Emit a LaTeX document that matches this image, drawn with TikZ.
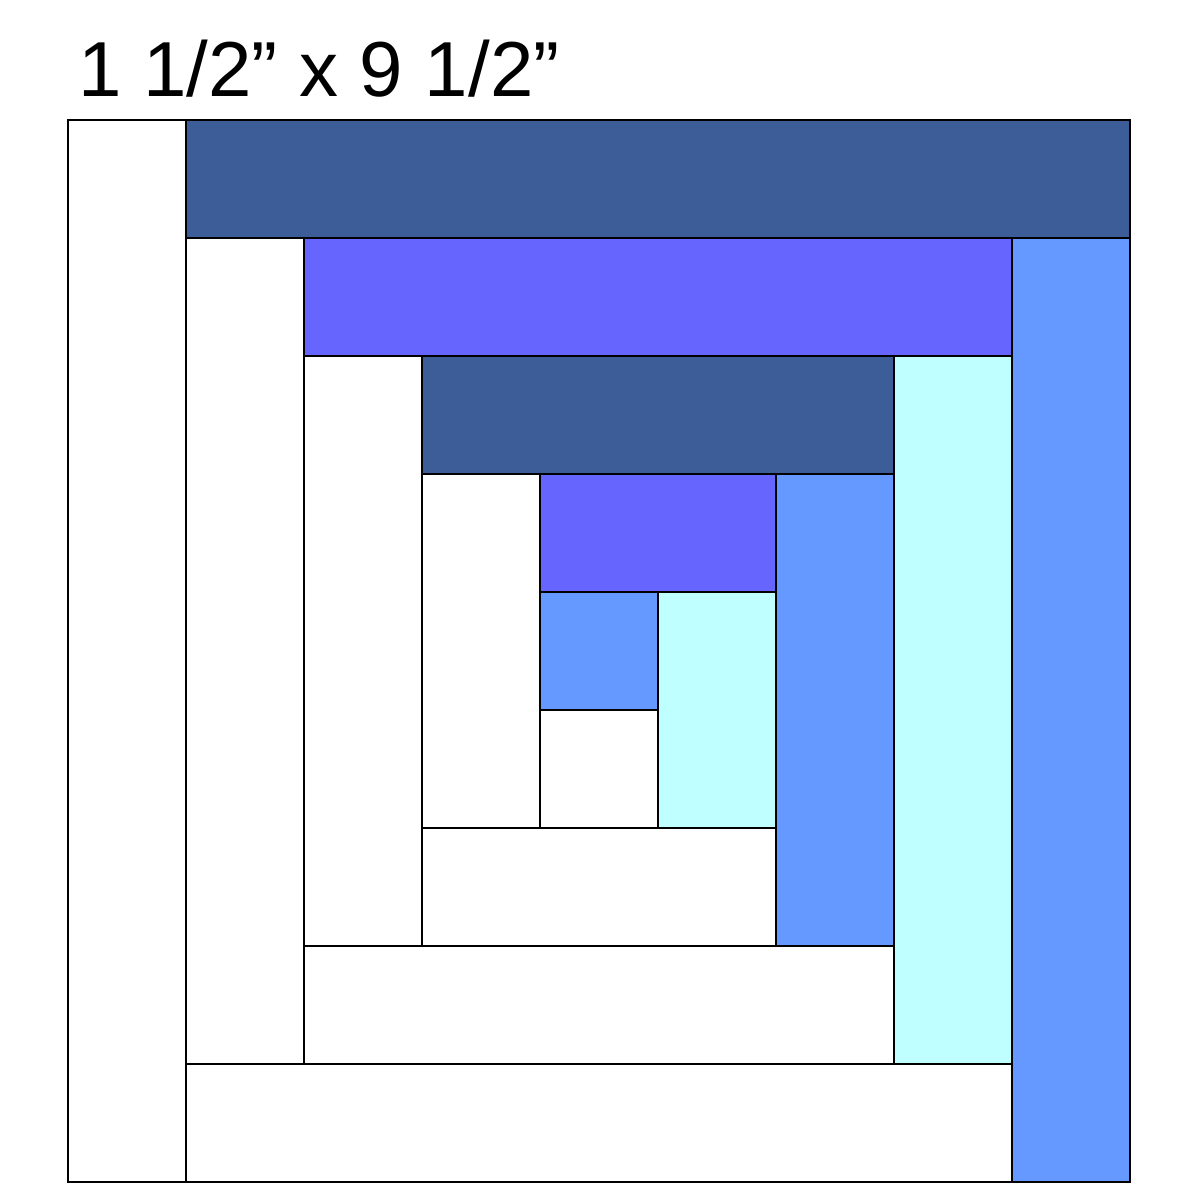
\documentclass[tikz,border=0pt]{standalone}
\usepackage{fontspec}
\setmainfont{Liberation Sans}
\definecolor{darkblue}{HTML}{3D5D99}
\definecolor{violet}{HTML}{6666FF}
\definecolor{midblue}{HTML}{6699FF}
\definecolor{lightcyan}{HTML}{C0FFFF}
\tikzset{
  patch/.style={draw=black, line width=2pt},
  pwhite/.style={patch, fill=white},
  pdark/.style={patch, fill=darkblue},
  pviolet/.style={patch, fill=violet},
  pmid/.style={patch, fill=midblue},
  pcyan/.style={patch, fill=lightcyan},
}
\begin{document}
\begin{tikzpicture}[x=1pt,y=-1pt]
\useasboundingbox[fill=white] (0,0) rectangle (1200,1200);
% centre and first round
\draw[pwhite]  (540,710) rectangle (658,828);
\draw[pmid]    (540,592) rectangle (658,710);
\draw[pcyan]   (658,592) rectangle (776,828);
\draw[pviolet] (540,474) rectangle (776,592);
\draw[pwhite]  (422,474) rectangle (540,828);
\draw[pwhite]  (422,828) rectangle (776,946);
% second round
\draw[pmid]    (776,474) rectangle (894,946);
\draw[pdark]   (422,356) rectangle (894,474);
\draw[pwhite]  (304,356) rectangle (422,946);
\draw[pwhite]  (304,946) rectangle (894,1064);
% third round
\draw[pcyan]   (894,356) rectangle (1012,1064);
\draw[pviolet] (304,238) rectangle (1012,356);
\draw[pwhite]  (186,238) rectangle (304,1064);
\draw[pwhite]  (186,1064) rectangle (1012,1182);
% fourth round
\draw[pmid]    (1012,238) rectangle (1130,1182);
\draw[pdark]   (186,120) rectangle (1130,238);
\draw[pwhite]  (68,120) rectangle (186,1182);
\node[anchor=base west, inner sep=0pt, font=\fontsize{78}{94}\selectfont] (title) at (78,96) {1 1/2” x 9 1/2”};
\end{tikzpicture}
\end{document}
